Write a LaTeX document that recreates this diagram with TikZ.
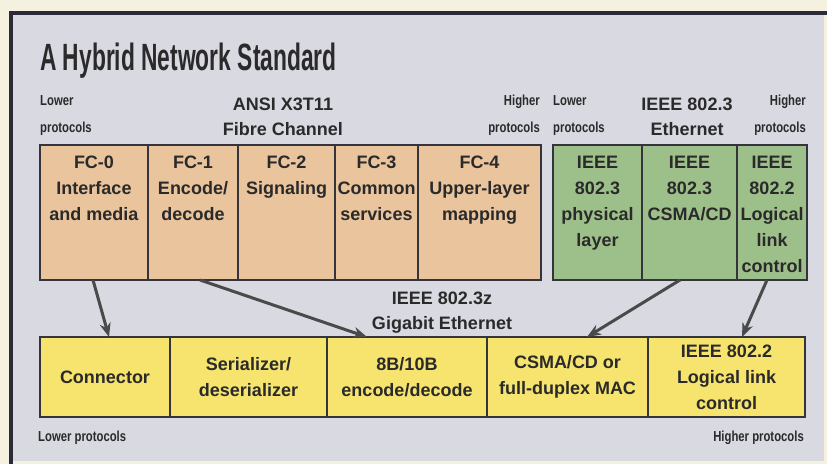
\documentclass[tikz,border=0pt]{standalone}
\usepackage{fontspec}
\setmainfont{Liberation Sans}
\newfontfamily\titlefont[FakeStretch=0.6]{Liberation Sans}
\newfontfamily\sidefont[FakeStretch=0.78]{Liberation Sans}
\usetikzlibrary{positioning,arrows.meta}
\definecolor{cream}{HTML}{F4F1E1}
\definecolor{panel}{HTML}{D9D9E2}
\definecolor{framecol}{HTML}{2B2B38}
\definecolor{boxline}{HTML}{34343C}
\definecolor{ink}{HTML}{2A2A2A}
\definecolor{fcorange}{HTML}{E9C49C}
\definecolor{ethgreen}{HTML}{9DC08A}
\definecolor{gigyellow}{HTML}{F6E46E}
\definecolor{arrowgray}{HTML}{4A4A4A}
\tikzset{
  boxtext/.style={anchor=north, yshift=-11pt, inner sep=0pt, align=center, text=ink,
    font=\bfseries\fontsize{18}{26}\selectfont},
  layer/.style={draw=boxline, line width=1.3pt, outer sep=0pt, inner sep=0pt,
    minimum height=135pt, label={[boxtext]north:#1}},
  fcbox/.style={layer={#1}, fill=fcorange},
  ethbox/.style={layer={#1}, fill=ethgreen},
  gigbox/.style={draw=boxline, line width=1.3pt, outer sep=0pt, inner sep=1pt, fill=gigyellow,
    minimum height=80pt, align=center, text=ink, font=\bfseries\fontsize{18}{26}\selectfont},
  side/.style={inner sep=0pt, text=ink, font=\sidefont\bfseries\fontsize{14.5}{27}\selectfont},
  head/.style={inner sep=0pt, align=center, text=ink, font=\bfseries\fontsize{18}{25}\selectfont},
  link/.style={draw=arrowgray, line width=3pt, -{Stealth[length=14pt,width=11pt]}}
}
\begin{document}
\begin{tikzpicture}[x=1pt, y=-1pt]
	\useasboundingbox (0,0) rectangle (827,464);
	% Panel
	\fill[cream] (0,0) rectangle (827,464);
	\fill[panel] (11,13) rectangle (824,461);
	\draw[framecol, line width=4pt] (9,13) -- (827,13);
	\draw[framecol, line width=4pt] (11,11) -- (11,464);
	\node[anchor=base west, inner sep=0pt, text=ink, font=\titlefont\bfseries\fontsize{38}{40}\selectfont] (title) at (40,70) {A Hybrid Network Standard};
	% Fibre Channel
	\node[side, anchor=base west, align=left] (lowfc) at (40,132) {Lower\\protocols};
	\node[side, anchor=base east, align=right] (highfc) at (540,132) {Higher\\protocols};
	\node[head, anchor=base] (ansi) at (283,135) {ANSI X3T11\\Fibre Channel};
	\node[fcbox={FC-0\\Interface\\and media}, anchor=north west, minimum width=108pt] (fc0) at (40,145) {};
	\node[fcbox={FC-1\\Encode/\\decode}, right=0pt of fc0, minimum width=90pt] (fc1) {};
	\node[fcbox={FC-2\\Signaling}, right=0pt of fc1, minimum width=97pt] (fc2) {};
	\node[fcbox={FC-3\\Common\\services}, right=0pt of fc2, minimum width=83pt] (fc3) {};
	\node[fcbox={FC-4\\Upper-layer\\mapping}, right=0pt of fc3, minimum width=123pt] (fc4) {};
	% Ethernet
	\node[side, anchor=base west, align=left] (loweth) at (553,132) {Lower\\protocols};
	\node[side, anchor=base east, align=right] (higheth) at (806,132) {Higher\\protocols};
	\node[head, anchor=base] (ieee) at (687,135) {IEEE 802.3\\Ethernet};
	\node[ethbox={IEEE\\802.3\\physical\\layer}, right=12pt of fc4, minimum width=89pt] (eth1) {};
	\node[ethbox={IEEE\\802.3\\CSMA/CD}, right=0pt of eth1, minimum width=95pt] (eth2) {};
	\node[ethbox={IEEE\\802.2\\Logical\\link\\control}, right=0pt of eth2, minimum width=70pt] (eth3) {};
	% Gigabit Ethernet
	\node[head, anchor=base] (gige) at (442,329) {IEEE 802.3z\\Gigabit Ethernet};
	\node[gigbox, anchor=north west, minimum width=130pt] (conn) at (40,337) {Connector};
	\node[gigbox, right=0pt of conn, minimum width=157pt] (serdes) {Serializer/\\deserializer};
	\node[gigbox, right=0pt of serdes, minimum width=160pt] (enc) {8B/10B\\encode/decode};
	\node[gigbox, right=0pt of enc, minimum width=161pt] (mac) {CSMA/CD or\\full-duplex MAC};
	\node[gigbox, right=0pt of mac, minimum width=157pt] (llc) {IEEE 802.2\\Logical link\\control};
	\node[side, anchor=base west] (lowgig) at (38,441) {Lower protocols};
	\node[side, anchor=base east] (highgig) at (804,441) {Higher protocols};
	% Mappings
	\draw[link] ([xshift=-1pt]fc0.south) -- ([xshift=4pt]conn.north);
	\draw[link] ([xshift=7pt]fc1.south) -- ([xshift=-40pt]enc.north);
	\draw[link] ([xshift=-9.5pt]eth2.south) -- ([xshift=19.5pt]mac.north);
	\draw[link] ([xshift=-5pt]eth3.south) -- ([xshift=15.5pt]llc.north);
\end{tikzpicture}
\end{document}
